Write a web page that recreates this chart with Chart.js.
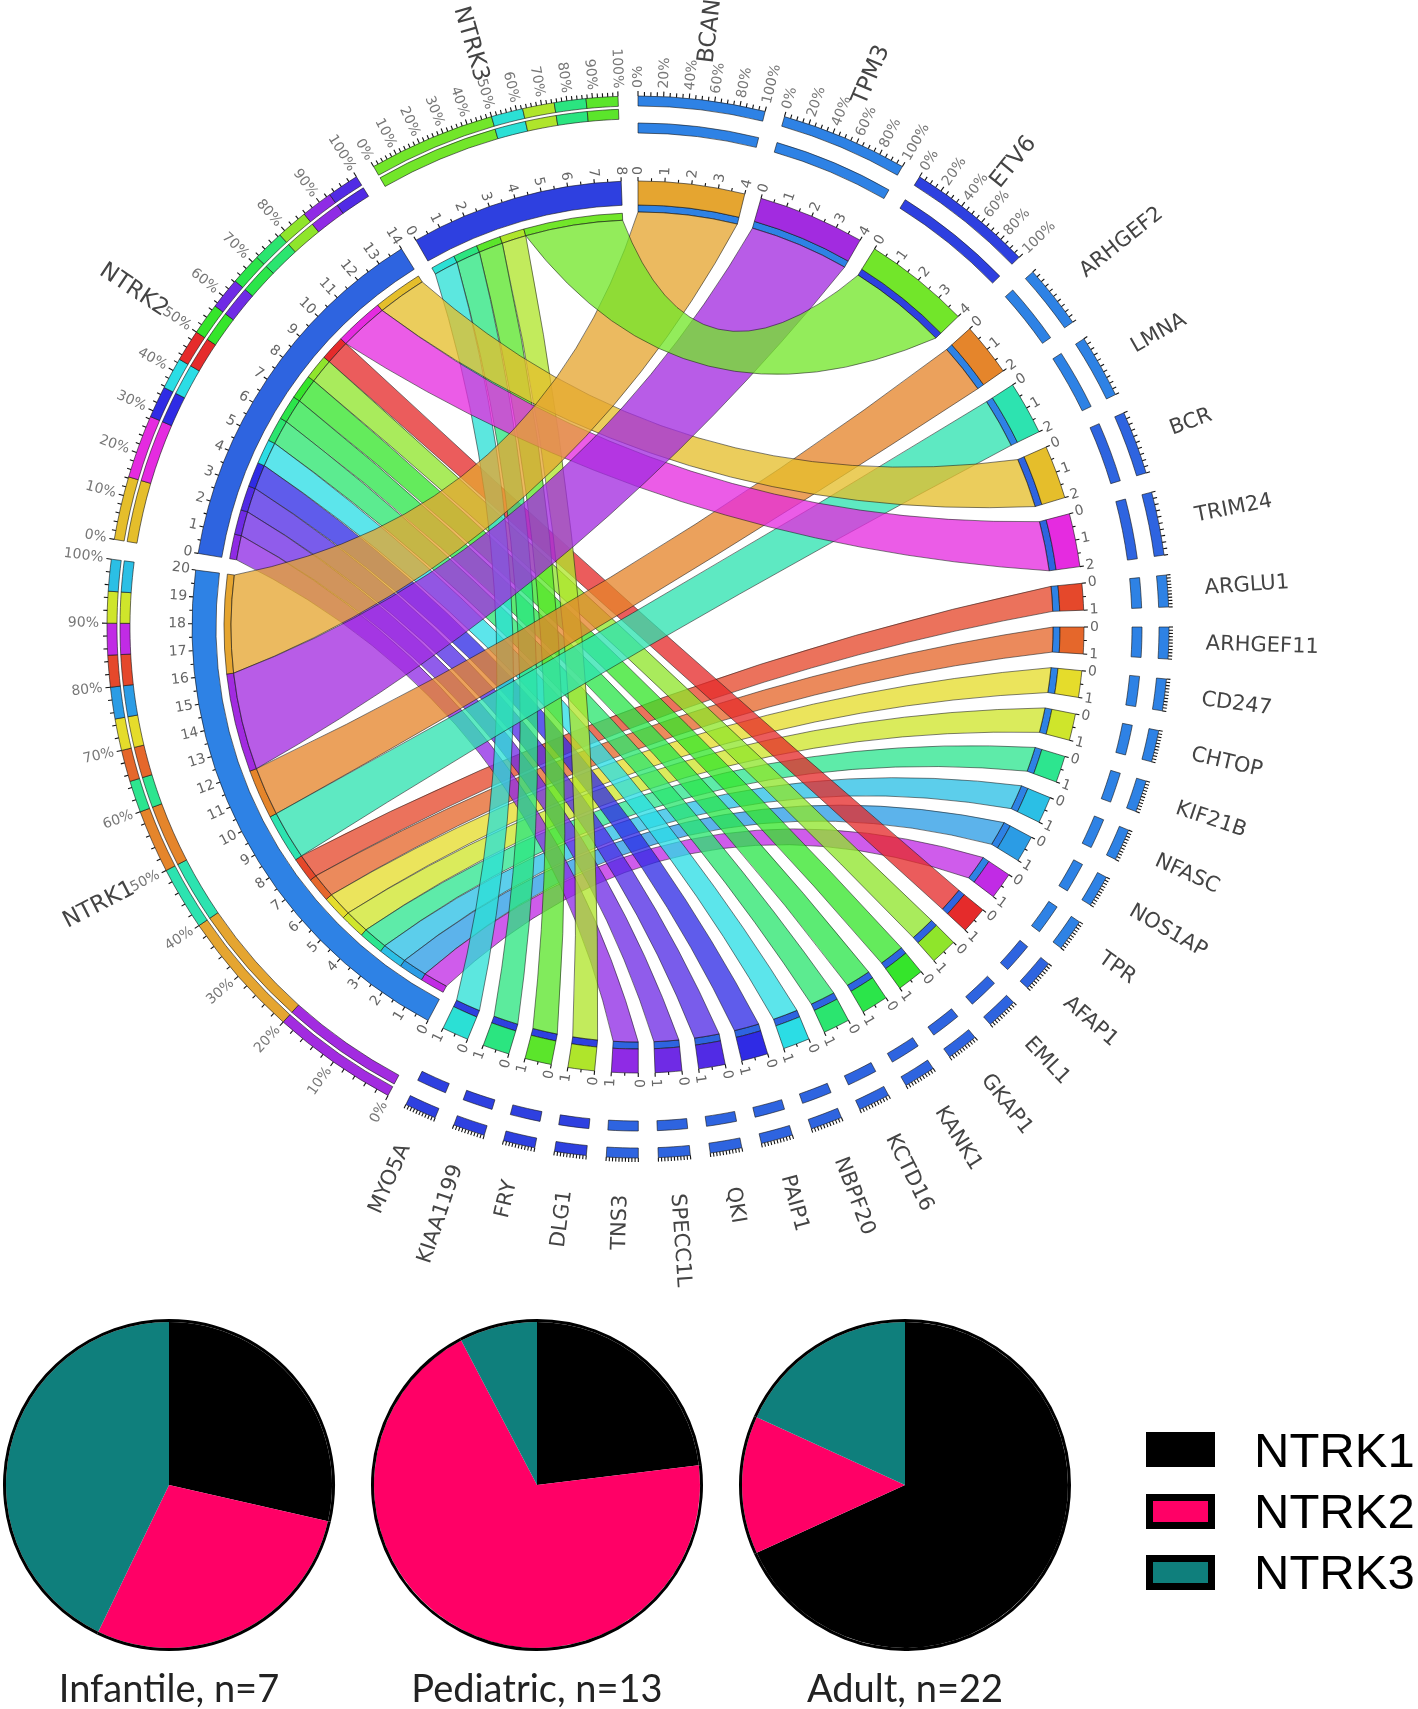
<!DOCTYPE html>
<html>
<head>
<meta charset="utf-8">
<title>NTRK fusion partners</title>
<script src="https://cdn.jsdelivr.net/npm/chart.js@4"></script>
<style>
  html, body { margin: 0; padding: 0; background: #fff; }
  #page { position: relative; width: 1418px; height: 1709px; overflow: hidden; }
  canvas { position: absolute; }
  .swatch { position: absolute; left: 1146px; width: 69px; height: 35px; box-sizing: border-box; border: 7px solid #000; }
  .legtext { position: absolute; left: 1254px; font: 49px/60px "Liberation Sans", Arial, sans-serif; color: #000; }
</style>
</head>
<body>
<div id="page">
  <canvas id="chord" width="1418" height="1300" style="left:0;top:0"></canvas>
  <canvas id="pieInfantile" width="360" height="409" style="left:-11px;top:1300px"></canvas>
  <canvas id="piePediatric" width="360" height="409" style="left:357px;top:1300px"></canvas>
  <canvas id="pieAdult" width="360" height="409" style="left:725px;top:1300px"></canvas>
  <div class="swatch" style="top:1432px;background:#000"></div>
  <div class="legtext" style="top:1420px">NTRK1</div>
  <div class="swatch" style="top:1494px;background:#FF0066"></div>
  <div class="legtext" style="top:1481px">NTRK2</div>
  <div class="swatch" style="top:1555px;background:#0F7F7C"></div>
  <div class="legtext" style="top:1542px">NTRK3</div>
</div>
<script>
// ─── data ─────────────────────────────────────────────────────────────────────
const partnerGenes = ['BCAN','TPM3','ETV6','ARHGEF2','LMNA','BCR','TRIM24','ARGLU1','ARHGEF11','CD247','CHTOP',
  'KIF21B','NFASC','NOS1AP','TPR','AFAP1','EML1','GKAP1','KANK1','KCTD16','NBPF20','PAIP1','QKI','SPECC1L',
  'TNS3','DLG1','FRY','KIAA1199','MYO5A'];
const partnerCounts = [4,4,4,2,2,2,2,1,1,1,1,1,1,1,1,1,1,1,1,1,1,1,1,1,1,1,1,1,1];
const partnerNtrk = ['NTRK1','NTRK1','NTRK3','NTRK1','NTRK1','NTRK2','NTRK2','NTRK1','NTRK1','NTRK1','NTRK1',
  'NTRK1','NTRK1','NTRK1','NTRK1','NTRK2','NTRK2','NTRK2','NTRK2','NTRK2','NTRK2','NTRK2','NTRK2','NTRK2',
  'NTRK2','NTRK3','NTRK3','NTRK3','NTRK3'];
const partnerColors = ['#E5A530','#A22BE0','#72E62A','#E5852B','#2DE3B0','#E5BE2B','#E52BE0','#E5482B','#E5672B',
  '#E5DC2B','#CFE52B','#2DE58F','#2BBFE5','#2B9CE5','#C12BE5','#E52B2B','#8FE52B','#35E52B','#2BE54A','#2BE56F',
  '#2BDDE5','#2F2BE5','#512BE5','#6F2BE5','#8F2BE5','#AFE52B','#5BE52B','#2BE580','#2BE0D5'];

const ntrkGenes = ['NTRK1','NTRK2','NTRK3'];
const ntrkCounts = [20,14,8];
const ntrkColors = { NTRK1: '#2E82E5', NTRK2: '#2E64E0', NTRK3: '#2E40E0' };

// partners along each NTRK arc, tick 0 upward
const ntrk1Links = ['TPR','NOS1AP','NFASC','KIF21B','CHTOP','CD247','ARHGEF11','ARGLU1','LMNA','ARHGEF2','TPM3','BCAN'];
const ntrk2Links = ['TNS3','SPECC1L','QKI','PAIP1','NBPF20','KCTD16','KANK1','GKAP1','EML1','AFAP1','TRIM24','BCR'];
const ntrk3Links = ['MYO5A','KIAA1199','FRY','DLG1','ETV6'];
// partners along each percent track, 0% upward
const ntrk1Track = ['TPM3','BCAN','LMNA','ARHGEF2','KIF21B','ARHGEF11','CD247','NOS1AP','ARGLU1','TPR','CHTOP','NFASC'];
const ntrk2Track = ['BCR','TRIM24','PAIP1','NBPF20','AFAP1','GKAP1','SPECC1L','KANK1','KCTD16','EML1','TNS3','QKI'];
const ntrk3Track = ['ETV6','MYO5A','DLG1','KIAA1199','FRY'];

const pieLabels = ['NTRK1','NTRK2','NTRK3'];
const infantileCounts = [2,2,3];
const pediatricCounts = [3,9,1];
const adultCounts = [15,3,4];
const pieColors = ['#000000','#FF0066','#0F7F7C'];

// ─── chord layout ─────────────────────────────────────────────────────────────
const UNITS = 84, GAP_DEG = 2.16;
const GAP = UNITS * GAP_DEG / (360 - 32 * GAP_DEG);   // gap between sectors, in link units
const LINE = 'rgba(20,20,20,0.75)';

const sizeOf = g => partnerGenes.includes(g) ? partnerCounts[partnerGenes.indexOf(g)] : ntrkCounts[ntrkGenes.indexOf(g)];
const colorOf = g => ntrkColors[g] || partnerColors[partnerGenes.indexOf(g)];
const linksOf = { NTRK1: ntrk1Links, NTRK2: ntrk2Links, NTRK3: ntrk3Links };
const trackOf = { NTRK1: ntrk1Track, NTRK2: ntrk2Track, NTRK3: ntrk3Track };
const sectors = [...partnerGenes, ...ntrkGenes];

// one doughnut ring: every sector is cut by segs(gene), followed by a blank gap
function ring(weight, segs) {
  const data = [], backgroundColor = [], borderWidth = [], owner = [];
  sectors.forEach(g => {
    segs(g).forEach(s => {
      data.push(s.v); backgroundColor.push(s.c); owner.push(s.key || g);
      borderWidth.push(s.c === 'transparent' ? 0 : 0.8);
    });
    data.push(GAP); backgroundColor.push('transparent'); borderWidth.push(0); owner.push(null);
  });
  return { data, backgroundColor, borderWidth, borderColor: LINE, weight, owner };
}
const isNtrk = g => ntrkGenes.includes(g);
const blank = g => [{ v: sizeOf(g), c: 'transparent' }];

const trackSegs = g => isNtrk(g)
  ? trackOf[g].map(p => ({ v: sizeOf(p), c: colorOf(p) }))
  : [{ v: sizeOf(g), c: ntrkColors[partnerNtrk[partnerGenes.indexOf(g)]] }];

const datasets = [
  ring(10, trackSegs),
  ring(3, blank),
  ring(10, g => isNtrk(g) ? trackSegs(g) : blank(g)),
  ring(4, blank),
  ring(10, g => isNtrk(g) ? blank(g) : trackSegs(g)),
  ring(48, blank),
  ring(24, g => [{ v: sizeOf(g), c: colorOf(g) }]),
  ring(7, g => isNtrk(g) ? blank(g) : trackSegs(g)),
  ring(1, blank),
  ring(7, g => isNtrk(g)
    ? linksOf[g].map(p => ({ v: sizeOf(p), c: colorOf(p), key: p }))
    : blank(g)),
];
const SECTOR_RING = 6, PARTNER_END = 7, NTRK_END = 9, TRACK_RING = 0;

// ─── chord plugin: ribbons, ticks and labels, all read back from the arcs ─────
function arcOf(chart, ds, key) {
  // lastIndexOf: in the NTRK end ring the partner's own sector comes first and is blank
  const i = datasets[ds].owner.lastIndexOf(key);
  return chart.getDatasetMeta(ds).data[i];
}
function textAt(ctx, a, r, text) {
  ctx.save();
  ctx.translate(r * Math.cos(a), r * Math.sin(a));
  const right = Math.cos(a) >= 0;
  ctx.rotate(right ? a : a + Math.PI);
  ctx.textAlign = right ? 'left' : 'right';
  ctx.textBaseline = 'middle';
  ctx.fillText(text, 0, 0);
  ctx.restore();
}
function tick(ctx, a, r0, len) {
  ctx.beginPath();
  ctx.moveTo(r0 * Math.cos(a), r0 * Math.sin(a));
  ctx.lineTo((r0 + len) * Math.cos(a), (r0 + len) * Math.sin(a));
  ctx.stroke();
}
// the further apart the two ends, the closer the control point sits to the centre
function edge(ctx, a0, r0, a1, r1) {
  let d = a1 - a0;
  while (d > Math.PI) d -= 2 * Math.PI;
  while (d < -Math.PI) d += 2 * Math.PI;
  const c = Math.cos(d / 2);
  const m = a0 + d / 2, h = Math.max(0.9 * c - 0.31, 0.48 * c) * Math.min(r0, r1);
  ctx.quadraticCurveTo(h * Math.cos(m), h * Math.sin(m), r1 * Math.cos(a1), r1 * Math.sin(a1));
}

const chordPlugin = {
  id: 'chord',
  afterDatasetsDraw(chart) {
    const ctx = chart.ctx;
    const first = chart.getDatasetMeta(SECTOR_RING).data[0];
    ctx.save();
    ctx.translate(first.x, first.y);

    // thin links first, the wide ones end up on top
    const order = partnerGenes.map((g, i) => i).sort((a, b) => partnerCounts[a] - partnerCounts[b]);
    order.forEach(i => {
      const g = partnerGenes[i];
      const p = arcOf(chart, PARTNER_END, g), n = arcOf(chart, NTRK_END, g);
      ctx.beginPath();
      ctx.arc(0, 0, p.innerRadius, p.startAngle, p.endAngle);
      edge(ctx, p.endAngle, p.innerRadius, n.startAngle, n.innerRadius);
      ctx.arc(0, 0, n.innerRadius, n.startAngle, n.endAngle);
      edge(ctx, n.endAngle, n.innerRadius, p.startAngle, p.innerRadius);
      ctx.closePath();
      ctx.fillStyle = partnerColors[i] + 'C4';
      ctx.fill();
      ctx.strokeStyle = 'rgba(20,20,20,0.6)';
      ctx.lineWidth = 0.9;
      ctx.stroke();
    });

    ctx.strokeStyle = '#111';
    ctx.lineWidth = 1.1;
    sectors.forEach(g => {
      const size = sizeOf(g), ntrk = isNtrk(g);
      const s = arcOf(chart, SECTOR_RING, g);
      const span = s.endAngle - s.startAngle;

      // count axis on the inner ring
      ctx.font = '14px "DejaVu Sans"';
      ctx.fillStyle = '#666';
      for (let k = 0; k <= size * 2; k++) {
        const a = s.startAngle + span * k / (size * 2);
        const major = k % 2 === 0;
        tick(ctx, a, s.outerRadius, major ? 4 : 3);
        if (major) textAt(ctx, a, s.outerRadius + 6, String(k / 2));
      }

      // percent axis on the outer track
      const steps = ntrk ? 50 : size === 4 ? 20 : 10;
      const every = ntrk ? 5 : size === 4 ? 4 : 0;
      const rt = chart.getDatasetMeta(TRACK_RING).data[0].outerRadius;
      ctx.fillStyle = '#777';
      for (let k = 0; k <= steps; k++) {
        const a = s.startAngle + span * k / steps;
        const major = every && k % every === 0;
        tick(ctx, a, rt, major ? 5 : 4);
        if (major) textAt(ctx, a, rt + 8, Math.round(k * 100 / steps) + '%');
      }

      // gene name
      ctx.font = (ntrk || size === 4 ? 23 : 21) + 'px "DejaVu Sans"';
      ctx.fillStyle = '#444';
      textAt(ctx, (s.startAngle + s.endAngle) / 2, 568, g);
    });
    ctx.restore();
  },
};

new Chart(document.getElementById('chord'), {
  type: 'doughnut',
  data: { labels: datasets[0].owner, datasets },
  options: {
    responsive: false, animation: false, events: [],
    rotation: 0, radius: 531, cutout: '76.65%',
    layout: { padding: { right: 142, bottom: 46 } },
    plugins: { legend: { display: false }, tooltip: { enabled: false } },
  },
  plugins: [chordPlugin],
});

// ─── cohort pies ──────────────────────────────────────────────────────────────
function renderPie(id, counts, caption) {
  new Chart(document.getElementById(id), {
    type: 'pie',
    data: {
      labels: pieLabels,
      datasets: [
        { data: counts, backgroundColor: '#000', borderWidth: 0, weight: 3 },
        { data: counts, backgroundColor: pieColors, borderWidth: 0, weight: 163 },
      ],
    },
    options: {
      responsive: false, animation: false, events: [], radius: 166,
      plugins: {
        legend: { display: false }, tooltip: { enabled: false },
        title: {
          display: true, text: caption, position: 'bottom', color: '#222', padding: 0,
          font: { family: 'Lato', size: 38, weight: 'normal', lineHeight: 1.03 },
        },
      },
    },
  });
}
renderPie('pieInfantile', infantileCounts, 'Infantile, n=7');
renderPie('piePediatric', pediatricCounts, 'Pediatric, n=13');
renderPie('pieAdult', adultCounts, 'Adult, n=22');
</script>
</body>
</html>
